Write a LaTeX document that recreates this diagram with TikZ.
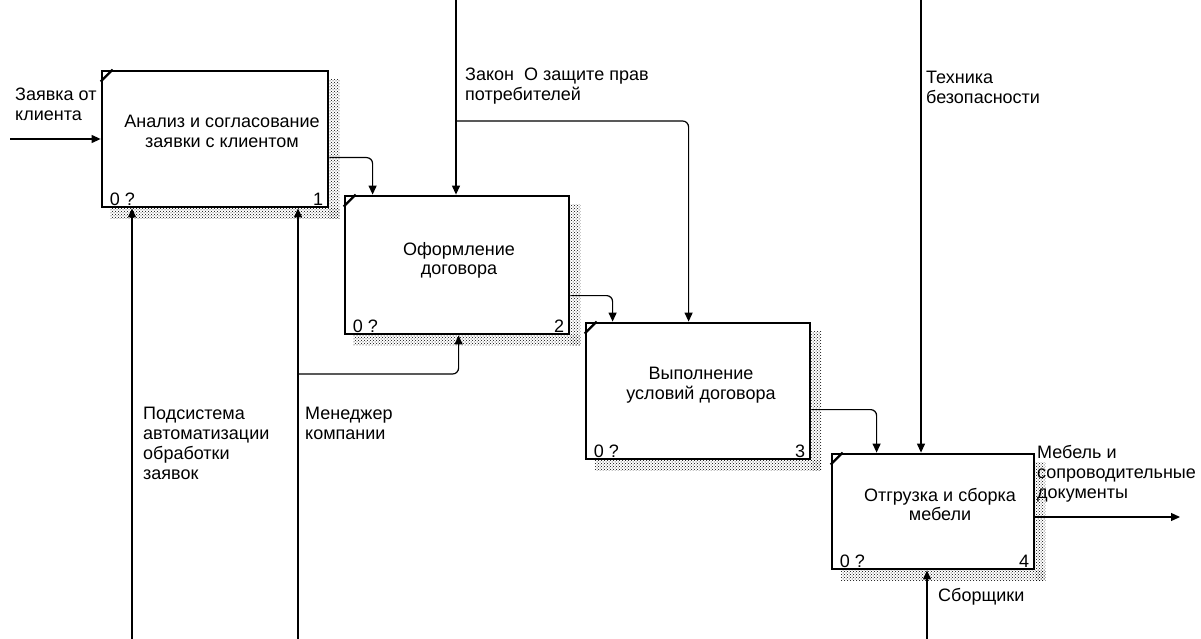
\documentclass[tikz,border=0pt]{standalone}
\usepackage{fontspec}
\setmainfont{Liberation Sans}
\usetikzlibrary{arrows.meta,patterns,calc,backgrounds}
\begin{document}
\begin{tikzpicture}[x=1pt,y=-1pt,
  box/.style={draw, fill=white, line width=2.8pt, inner sep=0pt},
  corner/.style={line width=2.2pt},
  shadowfill/.style={pattern=crosshatch dots, pattern color=black},
  conn/.style={line width=1.2pt, rounded corners=6pt, -{Triangle[length=9pt,width=8pt]}},
  lab/.style={inner sep=0pt, align=left, anchor=north west, font=\fontsize{18}{20}\selectfont},
  boxtext/.style={inner sep=0pt, align=center, anchor=north, font=\fontsize{18}{19.5}\selectfont},
  numl/.style={inner sep=0pt, anchor=south west, font=\fontsize{18}{20}\selectfont},
  numr/.style={inner sep=0pt, anchor=south east, font=\fontsize{18}{20}\selectfont}]
\useasboundingbox (0,0) rectangle (1201,639);

% boxes
\node[box, minimum width=226pt, minimum height=136pt] (b1) at (215,139) {};
\node[box, minimum width=224pt, minimum height=138pt] (b2) at (457,265) {};
\node[box, minimum width=224pt, minimum height=136pt] (b3) at (698,391) {};
\node[box, minimum width=202pt, minimum height=115pt] (b4) at (933,511.5) {};

% shadows
\begin{scope}[on background layer]
\foreach \b in {b1,b2,b3,b4}{
  \fill[shadowfill] ($(\b.north east)+(0,10)$) rectangle ($(\b.south east)+(10,10)$);
  \fill[shadowfill] ($(\b.south west)+(10,0)$) rectangle ($(\b.south east)+(10,10)$);
}
\end{scope}

% corner marks
\foreach \b in {b1,b2,b3,b4}{
  \draw[corner] ($(\b.north west)+(0,12)$) -- ($(\b.north west)+(12,0)$);
}

% box texts
\node[boxtext] (t1) at (222,115) {Анализ и согласование\\заявки с клиентом};
\node[boxtext] (t2) at (459,242) {Оформление\\договора};
\node[boxtext] (t3) at (701,367) {Выполнение\\условий договора};
\node[boxtext] (t4) at (940,488) {Отгрузка и сборка\\мебели};

% corner numbers
\node[numl] (n1l) at ($(b1.south west)+(9,-3)$) {0 ?};
\node[numr] (n1r) at ($(b1.south east)+(-6,-3)$) {1};
\node[numl] (n2l) at ($(b2.south west)+(9,-3)$) {0 ?};
\node[numr] (n2r) at ($(b2.south east)+(-6,-3)$) {2};
\node[numl] (n3l) at ($(b3.south west)+(9,-3)$) {0 ?};
\node[numr] (n3r) at ($(b3.south east)+(-6,-3)$) {3};
\node[numl] (n4l) at ($(b4.south west)+(9,-3)$) {0 ?};
\node[numr] (n4r) at ($(b4.south east)+(-6,-3)$) {4};

% connectors
\coordinate (in1) at (10,139);
\draw[conn] (in1) -- (b1.west);
\draw[conn] ([yshift=-88pt]b1.north east) -| ([xshift=29pt]b2.north west);
\coordinate (c1) at (456,0);
\draw[conn] (c1) -- (c1 |- b2.north);
\coordinate (j1) at (456,121);
\draw[conn] (j1) -| ([xshift=104pt]b3.north west);
\draw[conn] ([yshift=-101pt]b2.north east) -| ([xshift=28pt]b3.north west);
\draw[conn] ([yshift=-88pt]b3.north east) -| ([xshift=46pt]b4.north west);
\coordinate (c2) at (921,0);
\draw[conn] (c2) -- (c2 |- b4.north);
\coordinate (o4) at (1180,517);
\draw[conn] (b4.east |- o4) -- (o4);
\coordinate (m4) at (927,639);
\draw[conn] (m4) -- (m4 |- b4.south);
\coordinate (m1) at (132,639);
\draw[conn] (m1) -- (m1 |- b1.south);
\coordinate (m2) at (298,639);
\draw[conn] (m2) -- (m2 |- b1.south);
\coordinate (j2) at (298,374);
\draw[conn] (j2) -| ([xshift=115pt]b2.south west);

% labels
\node[lab] (l1) at (15,88) {Заявка от\\клиента};
\node[lab] (l2) at (465,68) {Закон\ \ О защите прав\\потребителей};
\node[lab] (l3) at (926,71) {Техника\\безопасности};
\node[lab] (l4) at (143,407) {Подсистема\\автоматизации\\обработки\\заявок};
\node[lab] (l5) at (305,407) {Менеджер\\компании};
\node[lab] (l6) at (1037,445) {Мебель и\\сопроводительные\\документы};
\node[lab] (l7) at (938,588) {Сборщики};
\end{tikzpicture}
\end{document}
